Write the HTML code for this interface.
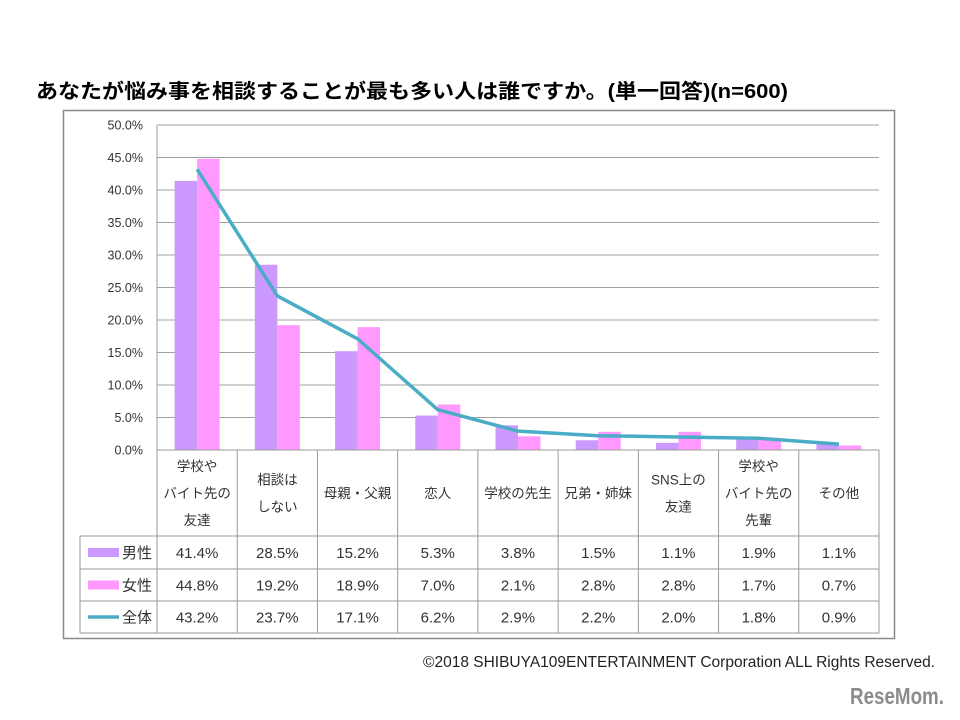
<!DOCTYPE html>
<html><head><meta charset="utf-8">
<style>
html,body{margin:0;padding:0;background:#fff;}
svg{display:block;font-family:"Liberation Sans","Noto Sans CJK JP",sans-serif;}
</style></head>
<body>
<svg id="chart" width="960" height="720" viewBox="0 0 960 720" xmlns="http://www.w3.org/2000/svg">
<text x="36" y="98" font-size="20" font-weight="bold" fill="#000" textLength="752" lengthAdjust="spacingAndGlyphs">あなたが悩み事を相談することが最も多い人は誰ですか。(単一回答)(n=600)</text>
<rect x="63.5" y="110.5" width="831" height="528" fill="#fff" stroke="#8a8a8a" stroke-width="1.5"/>
<g id="grid"></g><g id="bars"></g><g id="line"></g><g id="table"></g>
<text x="935" y="667" font-size="15.5" text-anchor="end" fill="#222">©2018  SHIBUYA109ENTERTAINMENT Corporation  ALL Rights Reserved.</text>
<text x="944" y="704" font-size="23" font-weight="bold" text-anchor="end" fill="#8c8c8c" textLength="94" lengthAdjust="spacingAndGlyphs">ReseMom.</text>
</svg>
<script>
const categories=[["学校や","バイト先の","友達"],["相談は","しない"],["母親・父親"],["恋人"],["学校の先生"],["兄弟・姉妹"],["SNS上の","友達"],["学校や","バイト先の","先輩"],["その他"]];
const male=[41.4,28.5,15.2,5.3,3.8,1.5,1.1,1.9,1.1];
const female=[44.8,19.2,18.9,7.0,2.1,2.8,2.8,1.7,0.7];
const total=[43.2,23.7,17.1,6.2,2.9,2.2,2.0,1.8,0.9];
const yTicks=[0,5,10,15,20,25,30,35,40,45,50];
const seriesNames=["男性","女性","全体"];

const NS="http://www.w3.org/2000/svg";
const X0=157,X1=879,Y0=450,Y1=125,YMAX=50;
const colW=(X1-X0)/categories.length;
function y(v){return Y0-(v/YMAX)*(Y0-Y1);}
function xc(i){return X0+colW*(i+0.5);}
function mk(tag,attrs,parent){const e=document.createElementNS(NS,tag);for(const k in attrs)e.setAttribute(k,attrs[k]);parent.appendChild(e);return e;}
const grid=document.getElementById('grid'),bars=document.getElementById('bars'),line=document.getElementById('line'),table=document.getElementById('table');

yTicks.forEach(t=>{
  const l=mk('line',{x1:X0,x2:X1,y1:y(t),y2:y(t),stroke:'#a0a0a0','stroke-width':1},grid);
  
  
  const tx=mk('text',{x:143,y:y(t)+4.5,'font-size':12.5,'text-anchor':'end',fill:'#333'},grid);
  tx.textContent=t.toFixed(1)+'%';
  
  
});
mk('line',{x1:X0,x2:X0,y1:Y1,y2:Y0,stroke:'#a0a0a0'},grid);

const bw=22.5;
categories.forEach((c,i)=>{
  const r1=mk('rect',{x:xc(i)-bw,y:y(male[i]),width:bw,height:Y0-y(male[i]),fill:'#cc99ff'},bars);
  
  
  const r2=mk('rect',{x:xc(i),y:y(female[i]),width:bw,height:Y0-y(female[i]),fill:'#ff99ff'},bars);
  
  
});
const pts=total.map((v,i)=>xc(i)+','+y(v)).join(' ');
const pl=mk('polyline',{points:pts,fill:'none',stroke:'#4bacc6','stroke-width':3.5,'stroke-linejoin':'round'},line);



// table
const TL=80,rowY=[450,536,569,601,633];
const tc='#9a9a9a';
mk('line',{x1:X0,x2:X1,y1:450,y2:450,stroke:tc},table);
for(let r=1;r<rowY.length;r++) mk('line',{x1:TL,x2:X1,y1:rowY[r],y2:rowY[r],stroke:tc},table);
for(let i=0;i<=categories.length;i++) mk('line',{x1:X0+colW*i,x2:X0+colW*i,y1:450,y2:633,stroke:tc},table);
mk('line',{x1:TL,x2:TL,y1:536,y2:633,stroke:tc},table);
categories.forEach((c,i)=>{
  const n=c.length,mid=493,lh=27;
  c.forEach((s,k)=>{
    const t=mk('text',{x:xc(i),y:mid+(k-(n-1)/2)*lh+5,'font-size':13.5,'text-anchor':'middle',fill:'#333'},table);
    t.textContent=s;
    
    
  });
});
const rows=[male,female,total],cols=['#cc99ff','#ff99ff','#4bacc6'];
rows.forEach((arr,r)=>{
  const cy=(rowY[r+1]+rowY[r+2])/2;
  if(r<2) mk('rect',{x:88,y:cy-4.5,width:31,height:9,fill:cols[r]},table);
  else mk('line',{x1:88,x2:119,y1:cy,y2:cy,stroke:cols[r],'stroke-width':3.5},table);
  const lt=mk('text',{x:122,y:cy+5.5,'font-size':15,fill:'#333'},table);
  lt.textContent=seriesNames[r];
  
  
  arr.forEach((v,i)=>{
    const t=mk('text',{x:xc(i),y:cy+5.5,'font-size':15,'text-anchor':'middle',fill:'#333'},table);
    t.textContent=v.toFixed(1)+'%';
    
    
  });
});
</script>
</body></html>
